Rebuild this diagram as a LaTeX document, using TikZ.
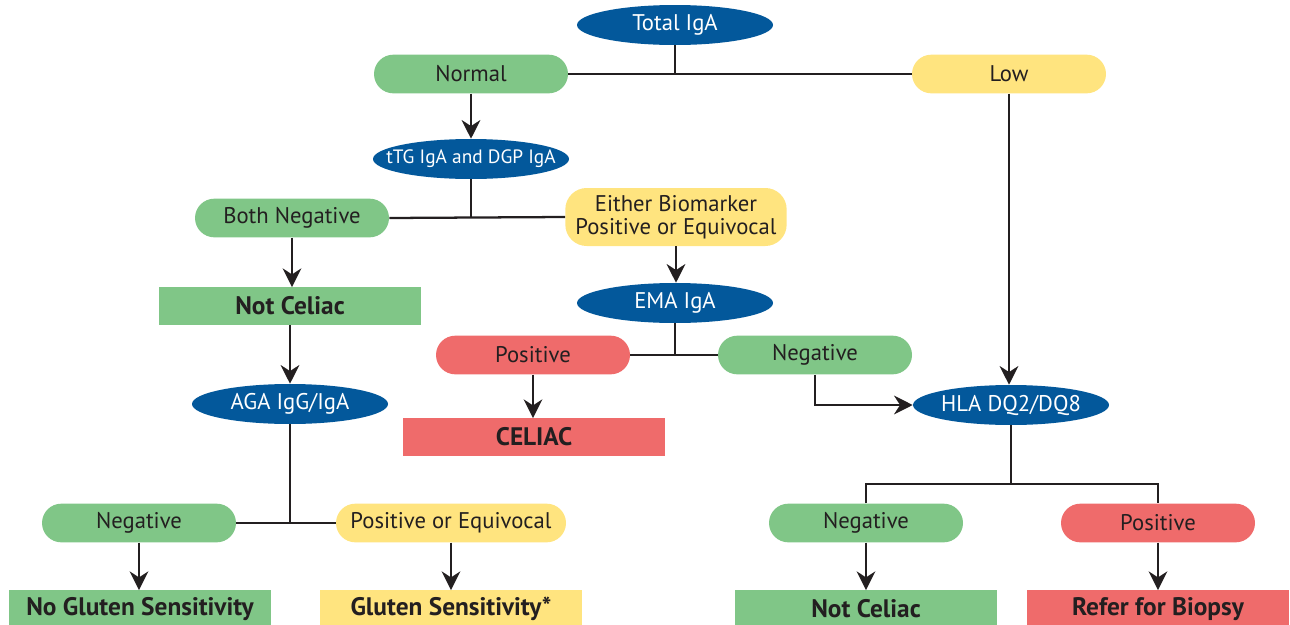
\documentclass[tikz,border=0pt]{standalone}
\usepackage{fontspec}
\setmainfont{PT Sans}
\usetikzlibrary{shapes.geometric,arrows.meta}

\definecolor{testblue}{HTML}{03589B}
\definecolor{okgreen}{HTML}{80C687}
\definecolor{warnyellow}{HTML}{FFE47F}
\definecolor{alertred}{HTML}{EF6B6B}
\definecolor{ink}{HTML}{231F20}

\tikzset{
  test/.style={ellipse, fill=testblue, text=white, inner xsep=-30pt, inner ysep=0pt,
    minimum width=147pt, minimum height=30pt, font=\fontsize{17}{19}\selectfont},
  result/.style={rectangle, rounded corners=14.5pt, inner sep=0pt, text=ink,
    minimum width=145.5pt, minimum height=29pt, font=\fontsize{17}{19}\selectfont},
  verdict/.style={rectangle, inner sep=0pt, text=ink, minimum width=197pt,
    minimum height=28pt, font=\fontsize{19}{21}\bfseries\selectfont},
  link/.style={draw=ink, line width=1.7pt},
  flow/.style={link, -{Stealth[length=14pt, width=14pt, inset=4.5pt]}}
}

\begin{document}
\begin{tikzpicture}[x=0.75pt, y=-0.75pt]
  \useasboundingbox (0,0) rectangle (1290,625);

  % tests
  \begin{scope}[every node/.style={test}]
    \node (tot) at (675,25) {Total IgA};
    \node[font=\fontsize{14.5}{16}\selectfont] (ttg) at (471,159) {tTG IgA and DGP IgA};
    \node (ema) at (675,303) {EMA IgA};
    \node (aga) at (290,404) {AGA IgG/IgA};
    \node (hla) at (1011,405) {HLA DQ2/DQ8};
  \end{scope}

  % outcomes
  \begin{scope}[every node/.style={result}]
    \node[fill=okgreen] (nrm) at (471,74) {Normal};
    \node[fill=warnyellow] (low) at (1009,74) {Low};
    \node[fill=okgreen] (bneg) at (292,218) {Both Negative};
    \node[fill=warnyellow, minimum width=166pt, minimum height=43.5pt,
      rounded corners=16pt, align=center, font=\fontsize{17}{17.5}\selectfont]
      (eith) at (676,217) {Either Biomarker\\Positive or Equivocal};
    \node[fill=alertred] (pos1) at (533,355) {Positive};
    \node[fill=okgreen] (neg1) at (815,355) {Negative};
    \node[fill=okgreen] (neg2) at (139,523) {Negative};
    \node[fill=warnyellow, minimum width=172.5pt] (poe) at (451,523) {Positive or Equivocal};
    \node[fill=okgreen] (neg3) at (866,523) {Negative};
    \node[fill=alertred] (pos3) at (1158,523) {Positive};
  \end{scope}

  % verdicts
  \begin{scope}[every node/.style={verdict}]
    \node[fill=okgreen] (nc1) at (290,306) {Not Celiac};
    \node[fill=alertred] (cel) at (534,437) {CELIAC};
    \node[fill=okgreen] (nogs) at (140,609) {No Gluten Sensitivity};
    \node[fill=warnyellow] (gs) at (451,609) {Gluten Sensitivity*};
    \node[fill=okgreen] (nc2) at (866,609) {Not Celiac};
    \node[fill=alertred] (bio) at (1158,609) {Refer for Biopsy};
  \end{scope}

  \coordinate (hj) at (1011,484);

  \begin{scope}[every edge/.style={link}]
    \path (tot.south) edge (tot.south |- nrm.east);
    \path (nrm.east) edge (low.west);
    \path (ttg.south) edge (ttg.south |- bneg.east);
    \path (bneg.east) edge (eith.west);
    \path (ema.south) edge (ema.south |- pos1.east);
    \path (pos1.east) edge (neg1.west);
    \path (aga.south) edge (aga.south |- neg2.east);
    \path (neg2.east) edge (poe.west);
    \path (hla.south) edge (hj);
  \end{scope}
  \draw[link] (neg3.north) |- (hj) -| (pos3.north);

  \begin{scope}[every edge/.style={flow}]
    \path (nrm.south) edge (ttg.north);
    \path (bneg.south) edge (bneg.south |- nc1.north);
    \path (eith.south) edge (eith.south |- ema.north);
    \path (nc1.south) edge (aga.north);
    \path (pos1.south) edge (pos1.south |- cel.north);
    \path (low.south) edge (low.south |- hla.north);
    \path (neg2.south) edge (neg2.south |- nogs.north);
    \path (poe.south) edge (gs.north);
    \path (neg3.south) edge (nc2.north);
    \path (pos3.south) edge (bio.north);
  \end{scope}
  \draw[flow] (neg1.south) |- (hla.west);
\end{tikzpicture}
\end{document}
